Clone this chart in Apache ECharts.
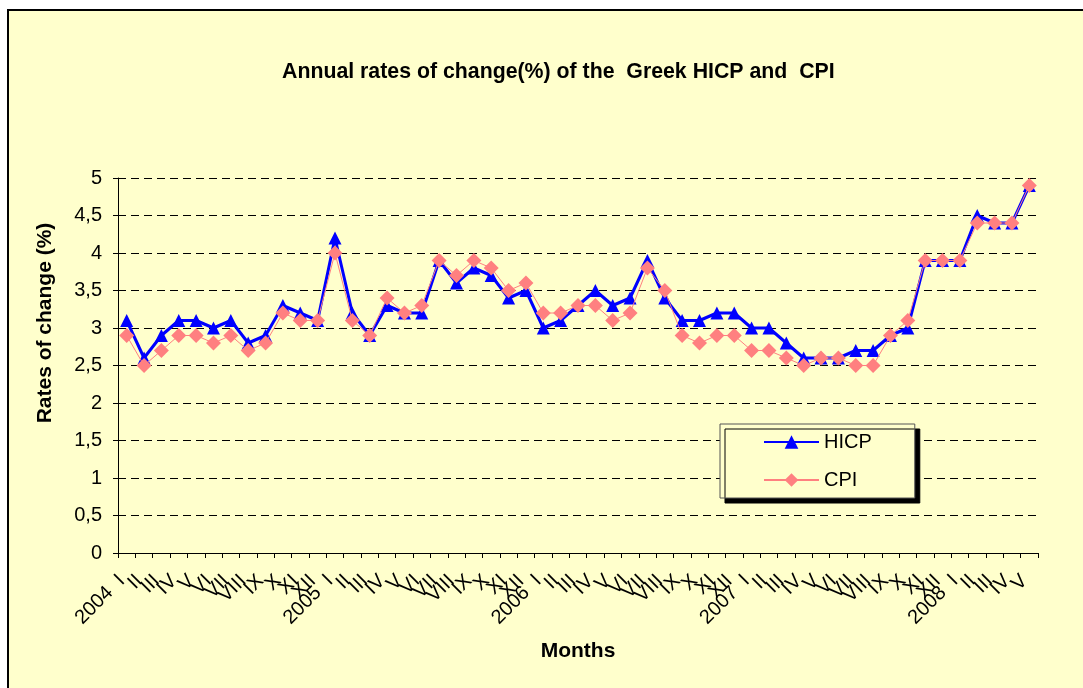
<!DOCTYPE html>
<html>
<head>
<meta charset="utf-8">
<script src="https://cdn.jsdelivr.net/npm/echarts@6/dist/echarts.min.js"></script>
<style>
html,body{margin:0;padding:0;background:#fff;}
#chart{width:1083px;height:688px;}
</style>
</head>
<body>
<div id="chart"></div>
<script>
const categories = [
  '2004  I','II','III','IV','V','VI','VII','VIII','IX','X','XI','XII',
  '2005  I','II','III','IV','V','VI','VII','VIII','IX','X','XI','XII',
  '2006  I','II','III','IV','V','VI','VII','VIII','IX','X','XI','XII',
  '2007  I','II','III','IV','V','VI','VII','VIII','IX','X','XI','XII',
  '2008  I','II','III','IV','V'
];
const hicp = [
  3.1,2.6,2.9,3.1,3.1,3.0,3.1,2.8,2.9,3.3,3.2,3.1,
  4.2,3.2,2.9,3.3,3.2,3.2,3.9,3.6,3.8,3.7,3.4,3.5,
  3.0,3.1,3.3,3.5,3.3,3.4,3.9,3.4,3.1,3.1,3.2,3.2,
  3.0,3.0,2.8,2.6,2.6,2.6,2.7,2.7,2.9,3.0,3.9,3.9,
  3.9,4.5,4.4,4.4,4.9
];
const cpi = [
  2.9,2.5,2.7,2.9,2.9,2.8,2.9,2.7,2.8,3.2,3.1,3.1,
  4.0,3.1,2.9,3.4,3.2,3.3,3.9,3.7,3.9,3.8,3.5,3.6,
  3.2,3.2,3.3,3.3,3.1,3.2,3.8,3.5,2.9,2.8,2.9,2.9,
  2.7,2.7,2.6,2.5,2.6,2.6,2.5,2.5,2.9,3.1,3.9,3.9,
  3.9,4.4,4.4,4.4,4.9
];
const titleText = 'Annual rates of change(%) of the  Greek HICP and  CPI';
const yAxisTitle = 'Rates of change (%)';
const xAxisTitle = 'Months';

const chart = echarts.init(document.getElementById('chart'), null, {renderer:'canvas'});
const font = 'Arial, "Liberation Sans", sans-serif';
chart.setOption({
  animation:false,
  backgroundColor:'#fff',
  textStyle:{fontFamily:font},
  graphic:{elements:[
    {
      type:'rect', z:0, silent:true,
      shape:{x:8, y:10, width:1100, height:700},
      style:{fill:'#FFFFCC', stroke:'#000', lineWidth:2}
    },
    {
      type:'text', z:10, silent:true,
      x:45, y:323, rotation:Math.PI/2,
      style:{text:yAxisTitle, fill:'#000', font:'bold 21px Arial, "Liberation Sans", sans-serif',
        align:'center', verticalAlign:'middle'}
    }
  ]},
  title:{
    text:titleText, left:277, top:57,
    textStyle:{fontSize:21.3, fontWeight:'bold', color:'#000', fontFamily:font}
  },
  legend:{
    orient:'vertical', left:720, top:424,
    padding:[8,43,8,43], itemGap:18, itemWidth:55, itemHeight:17,
    backgroundColor:'#FFFFCC', borderColor:'#555', borderWidth:1,
    shadowColor:'#000', shadowOffsetX:5, shadowOffsetY:5, shadowBlur:0,
    textStyle:{fontSize:20, color:'#000', fontFamily:font},
    data:['HICP','CPI']
  },
  grid:{
    left:118, right:45, top:178, bottom:135,
    show:true, backgroundColor:'#fff', borderColor:'#bbb', borderWidth:1
  },
  xAxis:{
    type:'category', data:categories, boundaryGap:true,
    name:xAxisTitle, nameLocation:'middle', nameGap:88,
    nameTextStyle:{fontSize:21, fontWeight:'bold', color:'#000', fontFamily:font},
    axisLine:{lineStyle:{color:'#000', width:1}},
    axisTick:{show:true, alignWithLabel:false, interval:0, length:5, lineStyle:{color:'#000'}},
    axisLabel:{interval:0, rotate:45, fontSize:20, color:'#000', margin:20, padding:[0,7,0,0], fontFamily:font},
    splitLine:{show:false}
  },
  yAxis:{
    type:'value', min:0, max:5, interval:0.5,
    axisLine:{show:true, lineStyle:{color:'#000', width:1}},
    axisTick:{show:true, length:5, lineStyle:{color:'#000'}},
    axisLabel:{fontSize:20, color:'#000', margin:16, fontFamily:font,
      formatter:v => String(v).replace('.', ',')},
    splitLine:{show:true, lineStyle:{color:'#000', type:[8,5], width:1}}
  },
  series:[
    {name:'HICP', type:'line', data:hicp,
     symbol:'triangle', symbolSize:13,
     lineStyle:{color:'#0000FF', width:3}, itemStyle:{color:'#0000FF'}, z:3},
    {name:'CPI', type:'line', data:cpi,
     symbol:'diamond', symbolSize:15,
     lineStyle:{color:'#FF8080', width:1}, itemStyle:{color:'#FF8080'}, z:4}
  ]
});
</script>
</body>
</html>
